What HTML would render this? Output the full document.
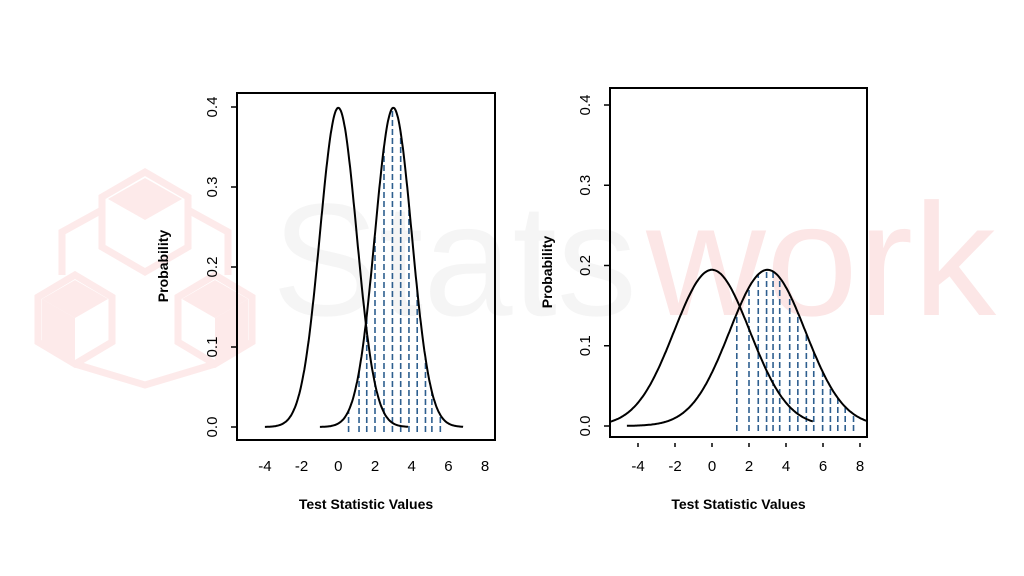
<!DOCTYPE html>
<html><head><meta charset="utf-8"><style>
body{margin:0;background:#fff;}
svg{display:block;font-family:"Liberation Sans",Arial,sans-serif;}
</style></head><body>
<svg id="c" width="1024" height="576" viewBox="0 0 1024 576">
<g id="wm">
  <polygon points="145,172 188,197 188,247 145,272 102,247 102,197" fill="none" stroke="#fdeaea" stroke-width="7"/>
  <polygon points="145,178 182,199 145,220 108,199" fill="#fdeaea"/>
  <polygon points="75,275 112,297 112,342 75,364 38,342 38,297" fill="none" stroke="#fdeaea" stroke-width="7"/>
  <polygon points="75,280 108,299 75,318 42,299" fill="#fdeaea"/>
  <polygon points="42,299 75,318 75,360 42,341" fill="#fdeaea"/>
  <polygon points="215,275 252,297 252,342 215,364 178,342 178,297" fill="none" stroke="#fdeaea" stroke-width="7"/>
  <polygon points="215,280 248,299 215,318 182,299" fill="#fdeaea"/>
  <polygon points="215,318 248,299 248,341 215,360" fill="#fdeaea"/>
  <polyline points="102,210 62,232 62,275" fill="none" stroke="#fdeaea" stroke-width="7"/>
  <polyline points="188,210 228,232 228,275" fill="none" stroke="#fdeaea" stroke-width="7"/>
  <polyline points="75,364 145,385 215,364" fill="none" stroke="#fdeaea" stroke-width="7"/>
  <text x="272" y="315" font-size="160" fill="#f5f5f5" textLength="365" lengthAdjust="spacingAndGlyphs">Stats</text>
  <text x="646" y="315" font-size="160" fill="#fce6e6" textLength="350" lengthAdjust="spacingAndGlyphs">work</text>
</g>
</svg>
<script>
const xTicks=[-4,-2,0,2,4,6,8];
const yTicks=[0.0,0.1,0.2,0.3,0.4];
const yTickLabels=["0.0","0.1","0.2","0.3","0.4"];
const leftMeans=[0,3];
const leftSd=[1,1];
const leftRanges=[[-4,3.8],[-1,6.8]];
const leftDashX=[0.56,1.13,1.55,2.0,2.49,2.95,3.4,3.85,4.3,4.75,5.1,5.56];
const rightMeans=[0,3];
const rightSd=[2.05,2.05];
const rightRanges=[[-5.5,5.45],[-4.6,8.6]];
const rightDashX=[1.34,2.0,2.5,2.95,3.3,3.66,4.2,4.64,5.1,5.5,5.98,6.4,6.8,7.2,7.65];
const NS="http://www.w3.org/2000/svg";
const svg=document.getElementById('c');
function mk(t,a,p){const e=document.createElementNS(NS,t);for(const k in a)e.setAttribute(k,a[k]);(p||svg).appendChild(e);return e;}
function pdf(x,m,s){return Math.exp(-0.5*((x-m)/s)**2)/(s*Math.sqrt(2*Math.PI));}
function panel(cfg,name){
  const g=mk('g',{});
  
  
  const X=v=>cfg.x0+v*cfg.xs, Y=v=>cfg.y0-v*cfg.ys;
  const cp=mk('clipPath',{id:name+'-clip'},g);
  mk('rect',{x:cfg.bx1,y:cfg.by1,width:cfg.bx2-cfg.bx1,height:cfg.by2-cfg.by1},cp);
  const plot=mk('g',{'clip-path':'url(#'+name+'-clip)'},g);
  cfg.dash.forEach((d,i)=>{
    const top=pdf(d,cfg.means[1],cfg.sd[1]);
    const l=mk('line',{x1:X(d),x2:X(d),y1:cfg.y0+5,y2:Y(top),stroke:'#2e5f8f','stroke-width':1.6,'stroke-dasharray':'6,3'},plot);
    
    
  });
  cfg.means.forEach((m,i)=>{
    let p='';const[a,b]=cfg.ranges[i];
    for(let k=0;k<=200;k++){const x=a+(b-a)*k/200;p+=(k?'L':'M')+X(x).toFixed(1)+','+Y(pdf(x,m,cfg.sd[i])).toFixed(1);}
    const c=mk('path',{d:p,fill:'none',stroke:'#000','stroke-width':2},plot);
    
    
  });
  const box=mk('rect',{x:cfg.bx1,y:cfg.by1,width:cfg.bx2-cfg.bx1,height:cfg.by2-cfg.by1,fill:'none',stroke:'#000','stroke-width':2},g);
  
  
  yTicks.forEach((v,i)=>{
    mk('line',{x1:cfg.bx1-6,x2:cfg.bx1,y1:Y(v),y2:Y(v),stroke:'#000','stroke-width':1.5},g);
    const t=mk('text',{x:cfg.bx1-20,y:Y(v),'font-size':15,'text-anchor':'middle',transform:`rotate(-90 ${cfg.bx1-20} ${Y(v)})`,fill:'#000'},g);
    t.textContent=yTickLabels[i];
    
    
  });
  xTicks.forEach(v=>{
    if(cfg.xticks) mk('line',{x1:X(v),x2:X(v),y1:cfg.by2+6,y2:cfg.by2+10,stroke:'#000','stroke-width':1.5},g);
    const t=mk('text',{x:X(v),y:471,'font-size':15,'text-anchor':'middle',fill:'#000'},g);
    t.textContent=v;
    
    
  });
  const yl=mk('text',{x:cfg.ylx,y:cfg.yly,'font-size':14,'font-weight':'bold','text-anchor':'middle',transform:`rotate(-90 ${cfg.ylx} ${cfg.yly})`},g);
  yl.textContent='Probability';
  
  
  const xl=mk('text',{x:(cfg.bx1+cfg.bx2)/2,y:509,'font-size':14,'font-weight':'bold','text-anchor':'middle'},g);
  xl.textContent='Test Statistic Values';
  
  
}
panel({x0:338.3,xs:18.35,y0:427,ys:800,bx1:237,bx2:495,by1:93,by2:440,means:leftMeans,sd:leftSd,ranges:leftRanges,dash:leftDashX,xticks:false,ylx:168,yly:266},'left-panel');
panel({x0:712,xs:18.5,y0:426,ys:802.5,bx1:610,bx2:867,by1:88,by2:437,means:rightMeans,sd:rightSd,ranges:rightRanges,dash:rightDashX,xticks:true,ylx:552,yly:272},'right-panel');
</script>
</body></html>
